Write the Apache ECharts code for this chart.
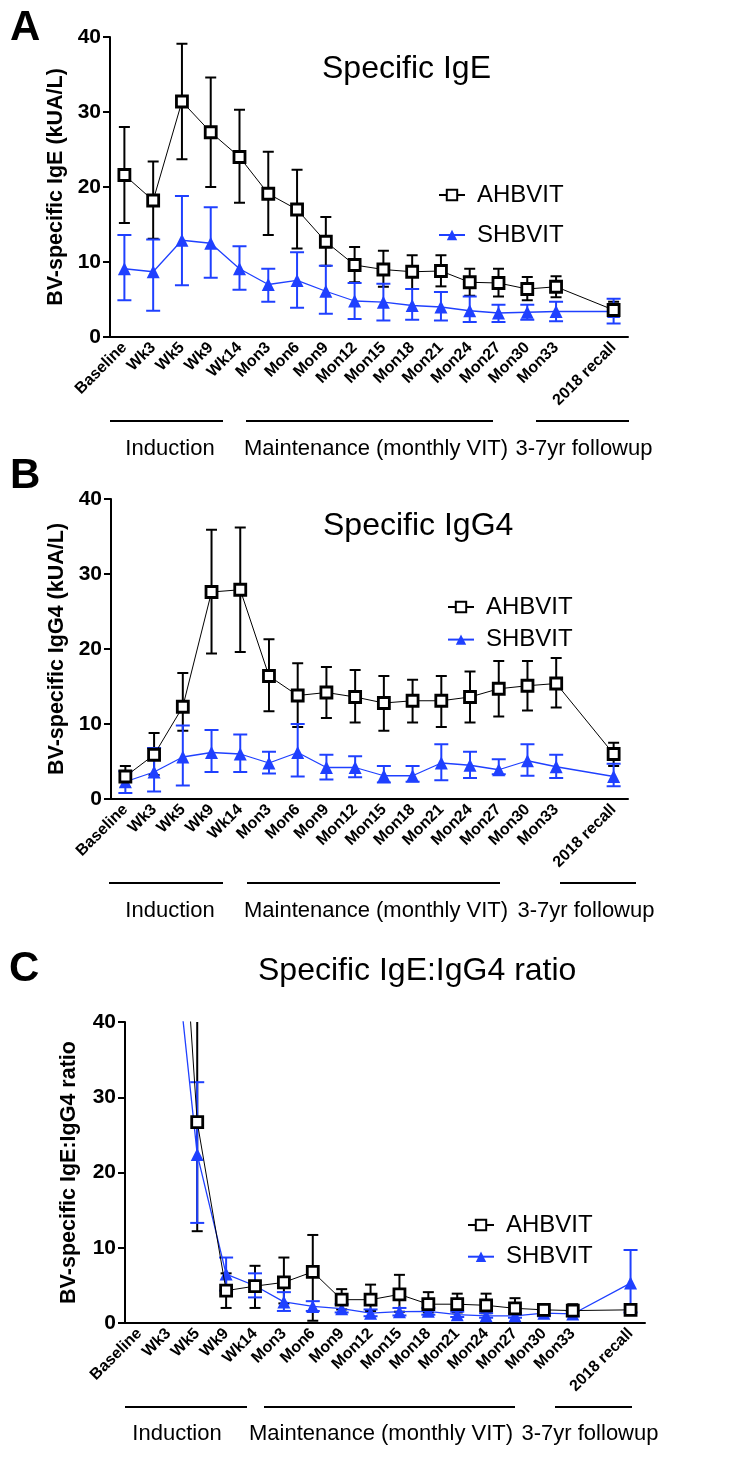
<!DOCTYPE html>
<html><head><meta charset="utf-8">
<script src="https://cdn.jsdelivr.net/npm/echarts@6/dist/echarts.min.js"></script>
<style>html,body{margin:0;padding:0;background:#fff}#c{width:750px;height:1464px}</style>
</head><body><div id="c"></div>
<script>
// ---------- data ----------
const timepoints = ['Baseline','Wk3','Wk5','Wk9','Wk14','Mon3','Mon6','Mon9','Mon12','Mon15','Mon18','Mon21','Mon24','Mon27','Mon30','Mon33','2018 recall'];
const seriesNames = ['AHBVIT','SHBVIT'];
const phaseLabels = ['Induction','Maintenance (monthly VIT)','3-7yr followup'];
const panelLetters = ['A','B','C'];
const panelTitles = ['Specific IgE','Specific IgG4','Specific IgE:IgG4 ratio'];
const yAxisNames = ['BV-specific IgE (kUA/L)','BV-specific IgG4 (kUA/L)','BV-specific IgE:IgG4 ratio'];
const yMin = 0, yMax = 40, yStep = 10;

// Panel A: specific IgE
const igeAHMean = [21.6,18.2,31.4,27.3,24.0,19.1,17.0,12.7,9.6,9.0,8.7,8.8,7.3,7.2,6.4,6.7,3.6];
const igeAHLow  = [15.2,13.1,23.7,20.0,17.9,13.6,11.8,9.5,7.3,6.7,6.4,6.75,5.5,5.4,4.9,5.3,2.7];
const igeAHHigh = [28.0,23.4,39.1,34.6,30.3,24.7,22.3,16.0,12.0,11.5,10.9,10.9,9.1,9.1,8.0,8.1,4.7];
const igeSHMean = [9.1,8.7,12.9,12.5,9.1,7.0,7.55,6.1,4.8,4.65,4.2,4.0,3.5,3.2,3.3,3.4,3.4];
const igeSHLow  = [4.9,3.5,6.9,7.9,6.3,4.7,3.9,3.1,2.4,2.2,2.3,2.2,2.0,2.0,2.3,2.1,1.8];
const igeSHHigh = [13.6,13.0,18.8,17.3,12.1,9.1,11.3,9.5,7.2,7.1,6.4,6.0,5.4,4.3,4.3,4.7,5.1];

// Panel B: specific IgG4
const igg4AHMean = [3.0,5.9,12.3,27.6,27.9,16.4,13.8,14.2,13.6,12.8,13.1,13.1,13.6,14.7,15.1,15.4,6.0];
const igg4AHLow  = [1.6,3.2,9.1,19.4,19.6,11.7,9.6,10.8,10.2,9.1,10.2,9.6,10.2,11.0,11.8,12.2,4.4];
const igg4AHHigh = [4.4,8.8,16.8,35.9,36.2,21.3,18.1,17.6,17.2,16.4,15.9,16.4,17.0,18.4,18.4,18.8,7.5];
const igg4SHMean = [2.3,3.6,5.6,6.2,6.0,4.8,6.2,4.2,4.2,3.1,3.1,4.8,4.5,3.9,5.1,4.3,3.0];
const igg4SHLow  = [0.8,1.0,1.8,3.6,3.6,3.4,3.0,2.6,2.9,2.2,2.3,2.5,2.8,3.3,3.1,2.8,1.7];
const igg4SHHigh = [3.7,6.8,9.8,9.2,8.6,6.3,10.0,5.9,5.7,4.4,4.4,7.3,6.3,5.3,7.3,5.9,4.7];

// Panel C: IgE:IgG4 ratio (early values run off the top of the axis)
const ratioAHMean = [null,84.7,26.7,4.3,4.9,5.4,6.8,3.1,3.1,3.8,2.5,2.5,2.35,1.95,1.75,1.65,1.75];
const ratioAHLow  = [null,null,12.2,2.0,2.0,2.6,0.3,1.8,1.6,1.5,1.4,1.4,1.3,1.2,1.2,1.1,1.3];
const ratioAHHigh = [null,null,48.0,6.6,7.6,8.7,11.7,4.5,5.1,6.4,4.1,3.9,3.9,3.3,2.5,2.5,2.2];
const ratioSHMean = [null,58.7,22.4,6.5,4.95,2.8,2.2,1.9,1.3,1.5,1.55,1.1,0.95,0.95,1.3,1.2,5.3];
const ratioSHLow  = [null,null,13.3,4.3,3.4,1.6,1.6,1.4,0.9,1.0,1.1,0.8,0.7,0.7,0.9,0.9,1.4];
const ratioSHHigh = [null,null,32.0,8.7,6.6,4.1,2.9,2.5,1.8,2.0,2.0,1.5,1.3,1.3,1.7,1.6,9.7];

// ---------- build ----------
const GAP = 16; // an empty axis slot sits between Mon33 and 2018 recall
function withGap(arr, fill){ const a = arr.slice(); a.splice(GAP, 0, fill); return a; }
const axisCats = withGap(timepoints, '');
function errData(low, high){
  const out = [];
  for (let i = 0; i < low.length; i++) {
    if (low[i] == null || high[i] == null) continue;
    out.push([i < GAP ? i : i + 1, low[i], high[i]]);
  }
  return out;
}

const F = "'Liberation Sans', Arial, Helvetica, sans-serif";
const BLACK = '#000000';
const BLUE = '#1f40ff';

const panels = [
  {AH:[igeAHMean,igeAHLow,igeAHHigh], SH:[igeSHMean,igeSHLow,igeSHHigh]},
  {AH:[igg4AHMean,igg4AHLow,igg4AHHigh], SH:[igg4SHMean,igg4SHLow,igg4SHHigh]},
  {AH:[ratioAHMean,ratioAHLow,ratioAHHigh], SH:[ratioSHMean,ratioSHLow,ratioSHHigh]}
];

const gridLayout = [
  {left:110, top:37, width:518, height:300},
  {left:111, top:499, width:517, height:300},
  {left:125, top:1022, width:520, height:301}
];
const yNameGap = [40, 41, 45];
const titleLayout = [{left:322, top:53}, {left:323, top:510}, {left:258, top:955}];
const letterLayout = [{left:10, top:7}, {left:10, top:455}, {left:9, top:948}];
const legendLayout = [
  {left:438, top:183, itemGap:16},
  {left:447, top:595, itemGap:8.6},
  {left:467, top:1213, itemGap:7.7}
];
const bracketLayout = [
  {y:421, ty:449, segs:[[110,223],[246,493],[536,629]], tx:[170,376,584]},
  {y:883, ty:911, segs:[[109,223],[247,500],[560,636]], tx:[170,376,586]},
  {y:1407, ty:1434, segs:[[125,247],[264,515],[555,632]], tx:[177,381,590]}
];

function errRenderer(color, half){
  return function(params, api){
    const x = api.value(0);
    const p0 = api.coord([x, api.value(1)]);
    const p1 = api.coord([x, api.value(2)]);
    const st = {stroke: color, lineWidth: 2};
    return {type:'group', children:[
      {type:'line', shape:{x1:p0[0], y1:p0[1], x2:p1[0], y2:p1[1]}, style:st},
      {type:'line', shape:{x1:p1[0]-half, y1:p1[1], x2:p1[0]+half, y2:p1[1]}, style:st},
      {type:'line', shape:{x1:p0[0]-half, y1:p0[1], x2:p0[0]+half, y2:p0[1]}, style:st}
    ]};
  };
}

const grid = [], xAxis = [], yAxis = [], series = [], title = [], legend = [], graphic = [];
panels.forEach((p, k) => {
  grid.push(gridLayout[k]);
  xAxis.push({
    type:'category', gridIndex:k, data:axisCats, boundaryGap:true,
    axisLine:{lineStyle:{color:BLACK, width:2}},
    axisTick:{alignWithLabel:true, length:7, lineStyle:{color:BLACK, width:2},
      interval:function(i, v){ return v !== ''; }},
    axisLabel:{interval:0, rotate:45, margin:8, color:BLACK, fontFamily:F, fontWeight:'bold', fontSize:16},
    splitLine:{show:false}
  });
  yAxis.push({
    type:'value', gridIndex:k, min:yMin, max:yMax, interval:yStep,
    name:yAxisNames[k], nameLocation:'middle', nameRotate:90, nameGap:yNameGap[k],
    nameTextStyle:{color:BLACK, fontFamily:F, fontWeight:'bold', fontSize:21.5},
    axisLine:{show:true, lineStyle:{color:BLACK, width:2}},
    axisTick:{show:true, length:7, lineStyle:{color:BLACK, width:2}},
    axisLabel:{margin:9, color:BLACK, fontFamily:F, fontWeight:'bold', fontSize:21},
    splitLine:{show:false}
  });
  series.push({
    type:'custom', name:'AH err '+k, xAxisIndex:k, yAxisIndex:k, clip:true, silent:true,
    renderItem:errRenderer(BLACK, 5.5), encode:{x:0, y:[1,2]}, data:errData(p.AH[1], p.AH[2]), z:2
  });
  series.push({
    type:'custom', name:'SH err '+k, xAxisIndex:k, yAxisIndex:k, clip:true, silent:true,
    renderItem:errRenderer(BLUE, 7), encode:{x:0, y:[1,2]}, data:errData(p.SH[1], p.SH[2]), z:2
  });
  series.push({
    type:'line', name:seriesNames[1], xAxisIndex:k, yAxisIndex:k, data:withGap(p.SH[0], null),
    connectNulls:true, clip:true, showAllSymbol:true, symbol:'triangle', symbolSize:13,
    lineStyle:{color:BLUE, width:1.3}, itemStyle:{color:BLUE, borderWidth:0}, z:3
  });
  series.push({
    type:'line', name:seriesNames[0], xAxisIndex:k, yAxisIndex:k, data:withGap(p.AH[0], null),
    connectNulls:true, clip:true, showAllSymbol:true, symbol:'rect', symbolSize:11,
    lineStyle:{color:BLACK, width:1}, itemStyle:{color:'#ffffff', borderColor:BLACK, borderWidth:2.8}, z:4
  });
  title.push({text:panelLetters[k], left:letterLayout[k].left, top:letterLayout[k].top, padding:0,
    textStyle:{fontFamily:F, fontWeight:'bold', fontSize:42, color:BLACK}});
  title.push({text:panelTitles[k], left:titleLayout[k].left, top:titleLayout[k].top, padding:0,
    textStyle:{fontFamily:F, fontWeight:'normal', fontSize:32, color:BLACK}});
  legend.push({
    left:legendLayout[k].left, top:legendLayout[k].top, itemGap:legendLayout[k].itemGap, padding:0,
    orient:'vertical', data:seriesNames, itemWidth:26, itemHeight:13, selectedMode:false,
    textStyle:{fontFamily:F, fontSize:24, color:BLACK, padding:[0,0,0,7]}
  });
  const b = bracketLayout[k];
  b.segs.forEach((s, j) => {
    graphic.push({type:'line', shape:{x1:s[0], y1:b.y, x2:s[1], y2:b.y}, style:{stroke:BLACK, lineWidth:2}, silent:true});
    graphic.push({type:'text', x:b.tx[j], y:b.ty, silent:true,
      style:{text:phaseLabels[j], fill:BLACK, font:'22px ' + F, textAlign:'center', textVerticalAlign:'middle'}});
  });
});

const chart = echarts.init(document.getElementById('c'), null, {renderer:'canvas'});
chart.setOption({animation:false, backgroundColor:'#ffffff', grid, xAxis, yAxis, series, title, legend, graphic});
</script>
</body></html>
